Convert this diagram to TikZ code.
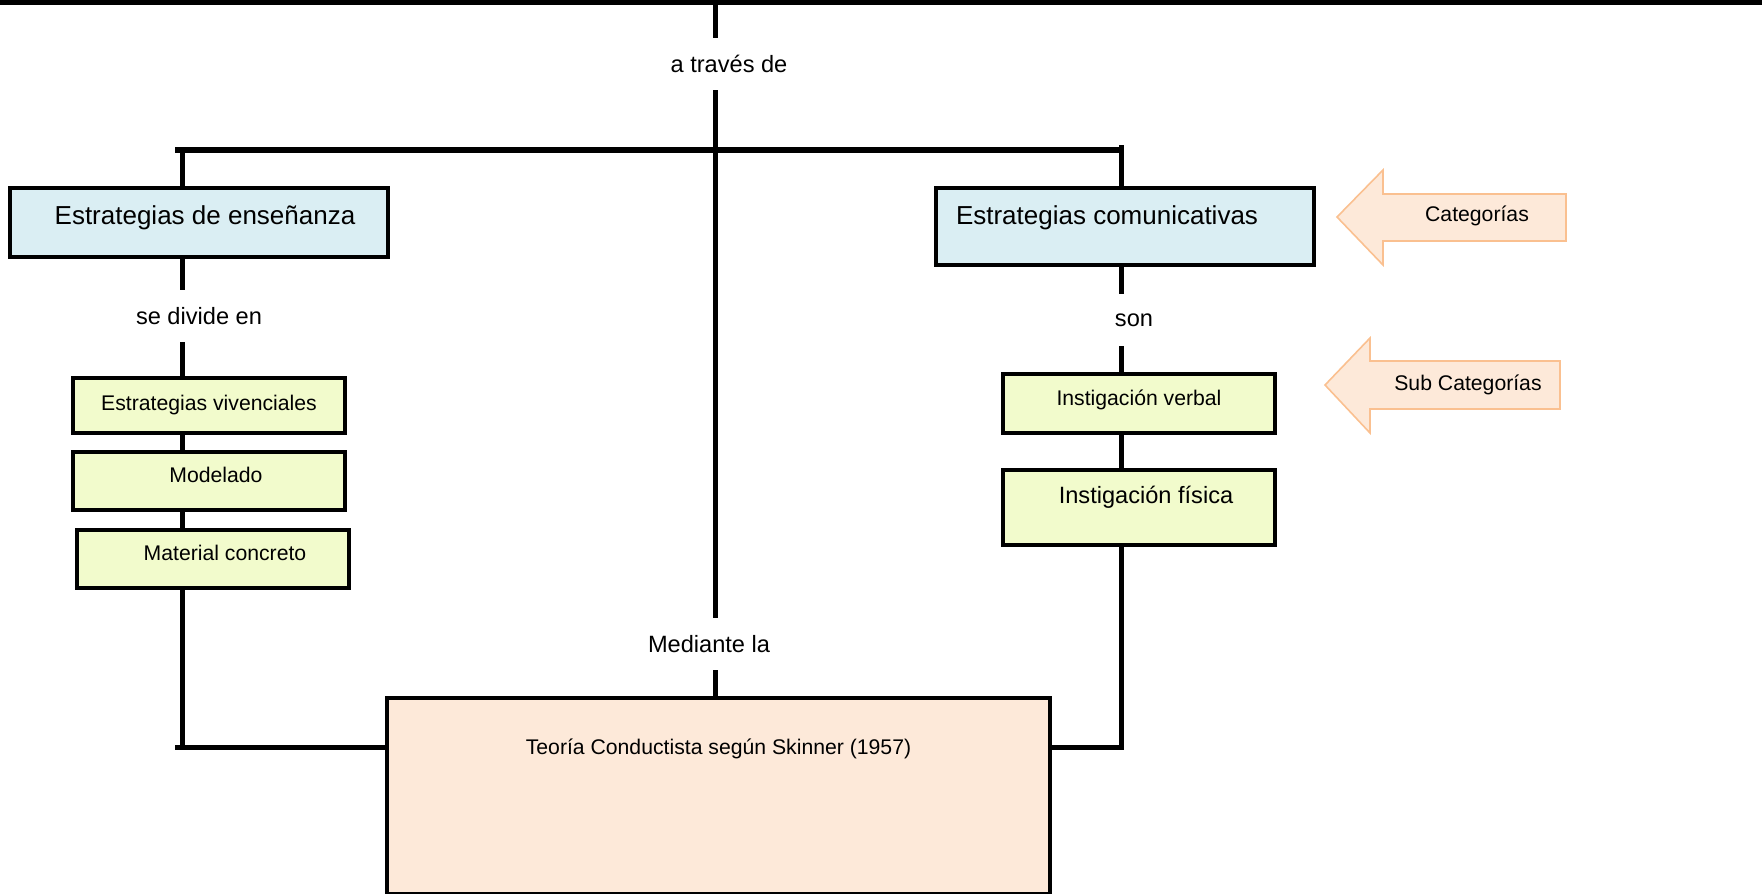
\documentclass[tikz,border=0pt]{standalone}
\usepackage{fontspec}
\setmainfont{Liberation Sans}
\definecolor{boxblue}{HTML}{DAEEF3}
\definecolor{boxgreen}{HTML}{F2FBCC}
\definecolor{boxpeach}{HTML}{FDE9D9}
\definecolor{arrowline}{HTML}{FAC090}
\tikzset{
  big/.style={font=\fontsize{13}{15}\selectfont},
  mid/.style={font=\fontsize{11.8}{14}\selectfont},
  small/.style={font=\fontsize{10.6}{13}\selectfont},
  catbox/.style={big, draw, line width=1.8pt, fill=boxblue, minimum width=189pt, text height=9.5pt},
  subbox/.style={small, draw, line width=1.8pt, fill=boxgreen, minimum width=136pt, text height=7.7pt},
  linkword/.style={mid, minimum height=26pt, inner sep=0pt},
  wire/.style={line width=2.5pt},
  catarrow/.style={draw=arrowline, fill=boxpeach, line width=0.8pt},
}
\begin{document}
\begin{tikzpicture}[x=0.5pt, y=-0.5pt]
\useasboundingbox (0,0) rectangle (1762,894);
% top rule and branch points
\draw[line width=2.5pt] (0,2) -- (1762,2);
\coordinate (top) at (715,0);
\coordinate (lx) at (182,150);
\coordinate (rx) at (1121,145);
\coordinate (bl) at (175,747);

% categories
\node[catbox, minimum height=34.5pt, text depth=7.7pt] (ens) at (199,222.5) {\hspace*{6pt}Estrategias de enseñanza};
\node[catbox, minimum height=38.5pt, text depth=11.7pt] (com) at (1125,226.5) {Estrategias comunicativas\hspace*{18pt}};

% sub categories, left
\node[subbox, minimum height=27.5pt, text depth=3.2pt] (viv) at (209,405.5) {Estrategias vivenciales};
\node[subbox, minimum height=29pt, text depth=5.8pt] (mod) at (209,481) {\hspace*{7pt}Modelado};
\node[subbox, minimum height=29pt, text depth=5.8pt] (mat) at (213,559) {\hspace*{12pt}Material concreto};

% sub categories, right
\node[subbox, minimum height=29.5pt, text depth=6.2pt] (verb) at (1139,403.5) {Instigación verbal};
\node[subbox, mid, minimum height=37.5pt, text height=8.5pt, text depth=12.5pt] (fis) at (1139,507.5) {\hspace*{7pt}Instigación física};

% theory
\node[small, draw, line width=1.8pt, fill=boxpeach, minimum width=331.5pt, minimum height=98pt, text height=7.7pt, text depth=48.8pt] (teoria) at (718.5,796) {Teoría Conductista según Skinner (1957)};

% linking words
\node[linkword] (traves) at (729,64) {a través de};
\node[linkword] (divide) at (199,316) {se divide en};
\node[linkword] (son) at (1134,320) {son};
\node[linkword] (mediante) at (709,644) {Mediante la};

% central stem
\draw[wire] (top) -- (top |- traves.north);
\draw[wire] (top |- traves.south) -- (top |- mediante.north);
\draw[wire] (top |- mediante.south) -- (top |- teoria.north);
\draw[line width=3pt] (175,150) -- (1123,150);

% left branch
\draw[wire] (lx) -- (lx |- ens.north);
\draw[wire] (lx |- ens.south) -- (lx |- divide.north);
\draw[wire] (lx |- divide.south) -- (lx |- viv.north);
\draw[wire] (lx |- viv.south) -- (lx |- mod.north);
\draw[wire] (lx |- mod.south) -- (lx |- mat.north);
\draw[wire] (lx |- mat.south) -- (lx |- bl);
\draw[wire] (bl) -- (teoria.west |- bl);

% right branch
\draw[wire] (rx) -- (rx |- com.north);
\draw[wire] (rx |- com.south) -- (rx |- son.north);
\draw[wire] (rx |- son.south) -- (rx |- verb.north);
\draw[wire] (rx |- verb.south) -- (rx |- fis.north);
\draw[wire] (rx |- fis.south) -- (rx |- bl) -- (teoria.east |- bl);

% side arrows
\draw[catarrow] (1566,194) -- (1383,194) -- (1383,170) -- (1337,217) -- (1383,265) -- (1383,241) -- (1566,241) -- cycle;
\node[small] (cat) at (1477,216) {Categorías};
\draw[catarrow] (1560,361) -- (1370,361) -- (1370,338) -- (1325,385) -- (1370,433) -- (1370,409) -- (1560,409) -- cycle;
\node[small] (subcat) at (1468,385) {Sub Categorías};
\end{tikzpicture}
\end{document}
